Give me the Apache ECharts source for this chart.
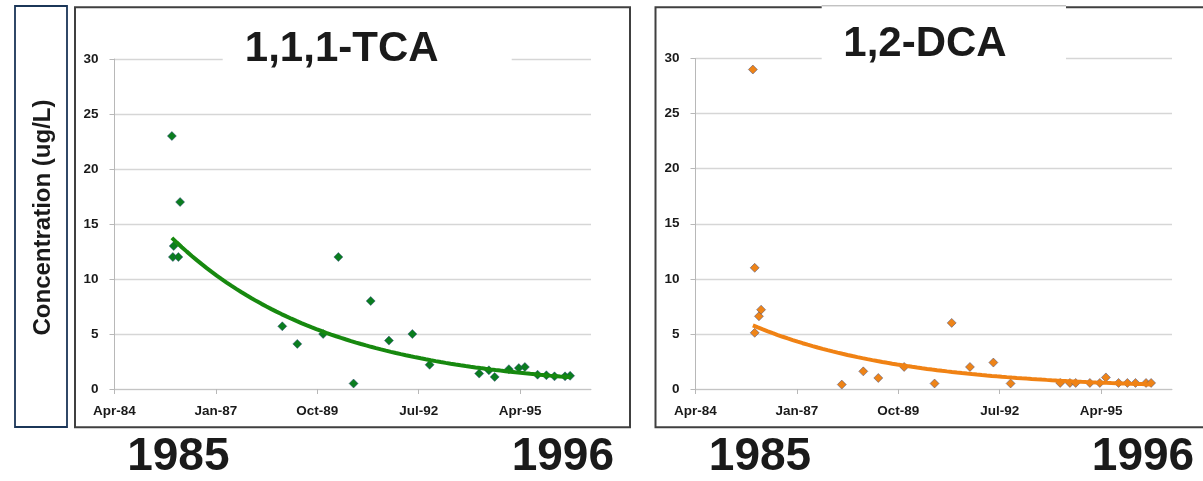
<!DOCTYPE html>
<html>
<head>
<meta charset="utf-8">
<script src="https://cdn.jsdelivr.net/npm/echarts@6/dist/echarts.min.js"></script>
<style>
html,body{margin:0;padding:0;background:#fff;}
#chart{width:1203px;height:481px;}
</style>
</head>
<body>
<div id="chart"></div>
<script>
// ---- data ----
const tcaDates = ['1985-11-15','1985-11-25','1985-12-03','1986-01-18','1986-02-04',
  '1988-11-08','1989-04-05','1989-12-16','1990-05-15','1990-10-12','1991-03-30','1991-09-26',
  '1992-05-14','1992-10-31','1994-03-04','1994-06-08','1994-08-04','1994-12-22','1995-03-30',
  '1995-05-29','1995-10-01','1995-12-27','1996-03-16','1996-06-28','1996-08-17'];
const tcaValues = [23,12,13,12,17, 5.7,4.1,5.0,12,0.5,8,4.4, 5.0,2.2,1.4,1.7,1.1,1.8,1.9, 2.0,1.3,1.25,1.15,1.15,1.2];

const dcaDates = ['1985-11-15','1985-12-03','1985-12-03','1986-01-14','1986-02-04',
  '1988-04-10','1988-11-08','1989-04-05','1989-12-16','1990-10-12','1991-03-30','1991-09-26',
  '1992-05-14','1992-10-31','1994-03-04','1994-06-08','1994-08-04','1994-12-22','1995-03-30',
  '1995-05-29','1995-10-01','1995-12-27','1996-03-16','1996-06-28','1996-08-17'];
const dcaValues = [29,11,5.1,6.6,7.2, 0.4,1.6,1.0,2.0,0.5,6.0,2.0, 2.4,0.5,0.55,0.55,0.55,0.55,0.55, 1.05,0.55,0.55,0.55,0.55,0.55];

// x-axis tick positions (spreadsheet date serials) and axis range
const xTicks = [30800, 31800, 32800, 33800, 34800];
const xMin = 30800, xMax = 35500;
const yTicks = [0,5,10,15,20,25,30];

const titles = ['1,1,1-TCA', '1,2-DCA'];
const yearLabels = ['1985', '1996'];
const yName = 'Concentration (ug/L)';

// ---- helpers ----
const MS = 86400000, EPOCH = Date.UTC(1899, 11, 30);
function serial(s){ const p = s.split('-').map(Number); return Math.round((Date.UTC(p[0], p[1]-1, p[2]) - EPOCH)/MS); }
const MON = ['Jan','Feb','Mar','Apr','May','Jun','Jul','Aug','Sep','Oct','Nov','Dec'];
function fmt(v){ const d = new Date(EPOCH + v*MS); return MON[d.getUTCMonth()] + '-' + String(d.getUTCFullYear()).slice(2); }
function pairs(ds, vs){ return ds.map((d,i)=>[serial(d), vs[i]]); }
// exponential least-squares trendline (fit on ln y), like the spreadsheet's
function expTrend(pts){
  const n = pts.length;
  let sx=0, sy=0, sxx=0, sxy=0;
  pts.forEach(([x,y])=>{ const t=(x-xMin)/1000, l=Math.log(y); sx+=t; sy+=l; sxx+=t*t; sxy+=t*l; });
  const b = (n*sxy - sx*sy)/(n*sxx - sx*sx), a = (sy - b*sx)/n;
  const x0 = Math.min(...pts.map(p=>p[0])), x1 = Math.max(...pts.map(p=>p[0]));
  const out = [];
  for (let i=0;i<=80;i++){ const x = x0 + (x1-x0)*i/80; out.push([x, Math.exp(a + b*(x-xMin)/1000)]); }
  return out;
}

const tcaPts = pairs(tcaDates, tcaValues);
const dcaPts = pairs(dcaDates, dcaValues);

const FONT = '"Liberation Sans", Arial, sans-serif';
const grids = [
  {left:114.5, top:59, width:476.5, height:330},
  {left:695.5, top:58.5, width:476.5, height:330.5}
];
function xAxis(i){
  return {type:'value', gridIndex:i, min:xMin, max:xMax,
    axisLine:{show:true, lineStyle:{color:'#c4c4c4', width:1}},
    axisTick:{show:true, length:5, customValues:xTicks, lineStyle:{color:'#b8b8b8'}},
    axisLabel:{customValues:xTicks, formatter:fmt, margin:15, color:'#1a1a1a', fontWeight:'bold', fontSize:13.5, fontFamily:FONT},
    splitLine:{show:false}};
}
function yAxis(i){
  return {type:'value', gridIndex:i, min:yTicks[0], max:yTicks[yTicks.length-1], interval:5,
    axisLine:{show:true, lineStyle:{color:'#b8b8b8', width:1}},
    axisTick:{show:true, length:5, lineStyle:{color:'#b8b8b8'}},
    axisLabel:{margin:16, color:'#1a1a1a', fontWeight:'bold', fontSize:13.5, fontFamily:FONT},
    splitLine:{show:true, lineStyle:{color:'#d6d6d6', width:1.3}}};
}
const markerStyle = c => ({color:c, opacity:1, borderColor:'rgba(50,70,130,0.6)', borderWidth:0.8});

const chart = echarts.init(document.getElementById('chart'), null, {renderer:'canvas'});
const txt = (text, x, y, size, extra) => Object.assign({type:'text', x, y, z:120,
  style:{text, font:'bold '+size+'px '+FONT, fill:'#1a1a1a', align:'center', verticalAlign:'middle'}}, extra||{});

chart.setOption({
  animation:false,
  backgroundColor:'#ffffff',
  grid: grids,
  xAxis: [xAxis(0), xAxis(1)],
  yAxis: [yAxis(0), yAxis(1)],
  series: [
    {type:'scatter', xAxisIndex:0, yAxisIndex:0, data:tcaPts, symbol:'diamond', symbolSize:9, itemStyle:markerStyle('#0a7d1e'), z:3},
    {type:'line', xAxisIndex:0, yAxisIndex:0, data:expTrend(tcaPts), showSymbol:false, smooth:false,
      lineStyle:{color:'#17890f', width:4}, z:4},
    {type:'scatter', xAxisIndex:1, yAxisIndex:1, data:dcaPts, symbol:'diamond', symbolSize:9, itemStyle:markerStyle('#ee8418'), z:3},
    {type:'line', xAxisIndex:1, yAxisIndex:1, data:expTrend(dcaPts), showSymbol:false, smooth:false,
      lineStyle:{color:'#f08214', width:4}, z:4}
  ],
  graphic: [
    // frames
    {type:'rect', z:110, shape:{x:15, y:6, width:52, height:421}, style:{fill:'none', stroke:'#1b3658', lineWidth:1.8}},
    {type:'rect', z:110, shape:{x:75, y:7.3, width:555, height:420}, style:{fill:'none', stroke:'#404040', lineWidth:2}},
    {type:'rect', z:110, shape:{x:655.5, y:7.3, width:560, height:420}, style:{fill:'none', stroke:'#404040', lineWidth:2}},
    // title backgrounds
    {type:'rect', z:115, shape:{x:222.7, y:22, width:289, height:56}, style:{fill:'#ffffff'}},
    {type:'rect', z:115, shape:{x:821.7, y:4, width:244.3, height:70}, style:{fill:'#ffffff'}},
    {type:'line', z:116, shape:{x1:821.7, y1:5.8, x2:1066, y2:5.8}, style:{stroke:'#a8a8a8', lineWidth:1}},
    // titles
    txt(titles[0], 341.7, 49.5, 42),
    txt(titles[1], 925, 44, 42),
    // y name
    txt(yName, 43, 217.5, 24, {rotation:Math.PI/2}),
    // year labels
    txt(yearLabels[0], 178.3, 457, 46),
    txt(yearLabels[1], 562.8, 457, 46),
    txt(yearLabels[0], 760, 457, 46),
    txt(yearLabels[1], 1143, 457, 46)
  ]
});
</script>
</body>
</html>
